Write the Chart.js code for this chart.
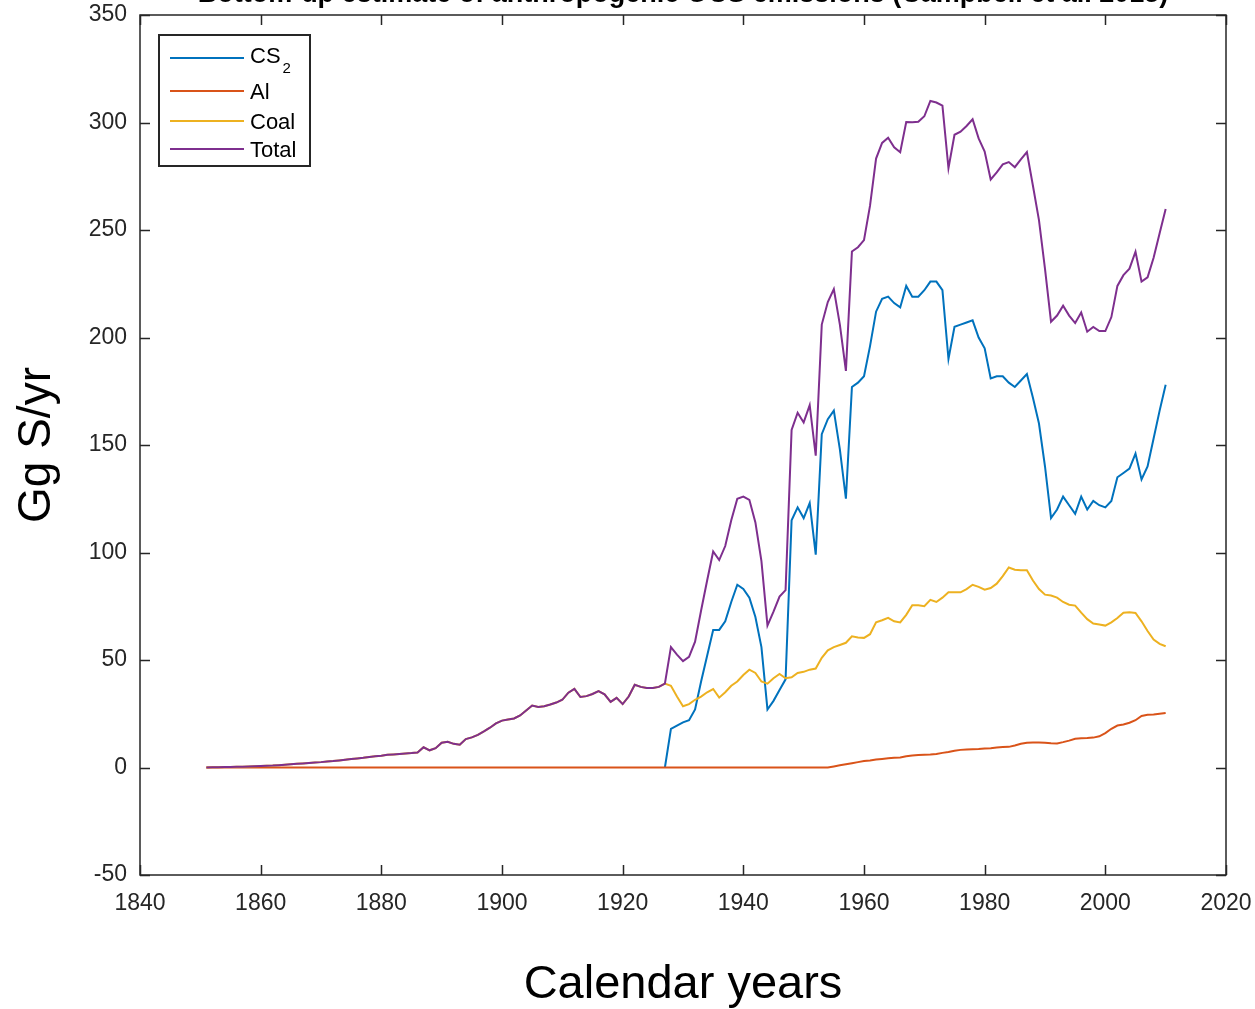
<!DOCTYPE html>
<html>
<head>
<meta charset="utf-8">
<script src="https://cdn.jsdelivr.net/npm/chart.js@4.4.0/dist/chart.umd.min.js"></script>
<style>
  html, body { margin: 0; padding: 0; background: #fff; }
  #wrap { width: 1255px; height: 1009px; position: relative; }
</style>
</head>
<body>
<div id="wrap"><canvas id="chart"></canvas></div>
<script>
// Bottom-up anthropogenic OCS emissions, Gg S per year

const titleText = 'Bottom-up estimate of anthropogenic OCS emissions (Campbell et al. 2015)';
const xTitle = 'Calendar years';
const yTitle = 'Gg S/yr';
const seriesNames = ['CS2', 'Al', 'Coal', 'Total'];
const seriesColors = ['#0072BD', '#D95319', '#EDB120', '#7E2F8E'];

const xTickValues = [1840, 1860, 1880, 1900, 1920, 1940, 1960, 1980, 2000, 2020];
const yTickValues = [-50, 0, 50, 100, 150, 200, 250, 300, 350];

// Coal, one value per year from 1851 to 2010
const coalFrom = 1851;
const coal = [
  0, 0.1, 0.1, 0.2, 0.2, 0.3, 0.4, 0.5, 0.6, 0.7,          // 1851-1860
  0.8, 0.9, 1.1, 1.3, 1.5, 1.7, 1.9, 2.1, 2.3, 2.5,        // 1861-1870
  2.8, 3.0, 3.3, 3.6, 3.9, 4.2, 4.5, 4.9, 5.2, 5.5,        // 1871-1880
  5.9, 6.1, 6.3, 6.5, 6.7, 7.0, 9.4, 8.0, 9.0, 11.5,       // 1881-1890
  12, 11, 10.6, 13.2, 14, 15.2, 16.8, 18.5, 20.5, 21.8,    // 1891-1900
  22.3, 22.8, 24.2, 26.5, 28.8, 28.2, 28.5, 29.3, 30.2, 31.5, // 1901-1910
  34.8, 36.6, 32.8, 33.2, 34.2, 35.5, 34, 30.5, 32.4, 29.5,   // 1911-1920
  33, 38.5, 37.5, 37, 37, 37.5, 39, 38, 33, 28.5,             // 1921-1930
  29.5, 31.5, 33, 35, 36.5, 32.5, 35, 38, 40, 43,             // 1931-1940
  45.5, 44, 40, 39, 41.5, 43.5, 41.5, 42, 44, 44.5,           // 1941-1950
  45.5, 46, 51, 54.5, 56, 57, 58, 61, 60.5, 60.3,             // 1951-1960
  62, 67.5, 68.5, 69.6, 68, 67.5, 71, 75.5, 75.5, 75,         // 1961-1970
  78, 77, 79, 81.5, 81.5, 81.5, 83, 85, 84, 82.7,             // 1971-1980
  83.5, 85.5, 89, 93, 92, 91.8, 91.7, 87, 83, 80.4,           // 1981-1990
  80, 79, 77, 75.7, 75.3, 72, 69, 67, 66.5, 66,               // 1991-2000
  67.5, 69.5, 72, 72.2, 71.9, 68, 63.5, 59.5, 57.5, 56.4      // 2001-2010
];

// CS2 (viscose industry), one value per year from 1927 to 2010
const cs2From = 1927;
const cs2 = [
  0, 18, 19.5, 21,                                  // 1927-1930
  22, 27, 40, 52, 64, 64, 68, 77, 85, 83,           // 1931-1940
  79, 70, 56, 27, 31, 36, 41, 115, 121, 116,        // 1941-1950
  123, 99, 155, 162, 166, 148, 125, 177, 179, 182,  // 1951-1960
  196, 212, 218, 219, 216, 214, 224, 219, 219, 222, // 1961-1970
  226, 226, 222, 190, 205, 206, 207, 208, 200, 195, // 1971-1980
  181, 182, 182, 179, 177, 180, 183, 172, 160, 140, // 1981-1990
  116, 120, 126, 122, 118, 126, 120, 124, 122, 121, // 1991-2000
  124, 135, 137, 139, 146, 134, 140, 153, 166, 178  // 2001-2010
];

// Aluminium smelting: zero until 1954, then one value per year to 2010
const alZeroFrom = 1851;
const alFrom = 1954;
const al = [
  0, 0.5, 1, 1.5, 2, 2.5, 3,                        // 1954-1960
  3.3, 3.7, 4, 4.3, 4.5, 4.7, 5.2, 5.6, 5.8, 5.9,   // 1961-1970
  6, 6.3, 6.8, 7.2, 7.8, 8.2, 8.4, 8.5, 8.6, 8.8,   // 1971-1980
  9, 9.3, 9.5, 9.6, 10.2, 11, 11.5, 11.6, 11.6, 11.5, // 1981-1990
  11.3, 11.2, 11.8, 12.5, 13.4, 13.6, 13.7, 13.9, 14.5, 16, // 1991-2000
  18, 19.5, 20, 20.8, 22, 24, 24.5, 24.6, 25, 25.4  // 2001-2010
];

// ---- build point lists ----
const coalPts = coal.map((v, i) => ({ x: coalFrom + i, y: v }));
const cs2Pts = cs2.map((v, i) => ({ x: cs2From + i, y: v }));
const alPts = [{ x: alZeroFrom, y: 0 }].concat(al.map((v, i) => ({ x: alFrom + i, y: v })));

function valueAt(arr, from, year) {
  const i = year - from;
  return (i >= 0 && i < arr.length) ? arr[i] : 0;
}
// Total is the sum of the three sources for each year
const totalPts = coal.map((v, i) => {
  const yr = coalFrom + i;
  return { x: yr, y: v + valueAt(cs2, cs2From, yr) + valueAt(al, alFrom, yr) };
});

const TEXT = '#262626';
const FONT = "'Liberation Sans', Arial, Helvetica, sans-serif";

// Box around the plot with inward tick marks on all four sides
const framePlugin = {
  id: 'frame',
  afterDatasetsDraw(chart) {
    const { ctx, chartArea: a, scales: { x, y } } = chart;
    const tl = 10;
    ctx.save();
    ctx.strokeStyle = TEXT;
    ctx.lineWidth = 1.5;
    ctx.strokeRect(a.left, a.top, a.right - a.left, a.bottom - a.top);
    ctx.beginPath();
    x.ticks.forEach(t => {
      const px = Math.round(x.getPixelForValue(t.value)) + 0.5;
      ctx.moveTo(px, a.bottom); ctx.lineTo(px, a.bottom - tl);
      ctx.moveTo(px, a.top); ctx.lineTo(px, a.top + tl);
    });
    y.ticks.forEach(t => {
      const py = Math.round(y.getPixelForValue(t.value)) + 0.5;
      ctx.moveTo(a.left, py); ctx.lineTo(a.left + tl, py);
      ctx.moveTo(a.right, py); ctx.lineTo(a.right - tl, py);
    });
    ctx.stroke();
    ctx.restore();
  }
};

// Legend box in the upper-left corner, with a subscript in CS2
const legendPlugin = {
  id: 'boxLegend',
  afterDraw(chart) {
    const { ctx, chartArea: a } = chart;
    const bx = a.left + 19, by = a.top + 20, bw = 151, bh = 131;
    const rows = [23, 56, 86, 114];
    ctx.save();
    ctx.fillStyle = '#fff';
    ctx.fillRect(bx, by, bw, bh);
    ctx.strokeStyle = TEXT;
    ctx.lineWidth = 2;
    ctx.strokeRect(bx, by, bw, bh);
    chart.data.datasets.forEach((ds, i) => {
      const ly = by + rows[i];
      ctx.strokeStyle = ds.borderColor;
      ctx.lineWidth = 2;
      ctx.beginPath();
      ctx.moveTo(bx + 11, ly); ctx.lineTo(bx + 85, ly);
      ctx.stroke();
      ctx.fillStyle = '#000';
      ctx.textBaseline = 'alphabetic';
      ctx.textAlign = 'left';
      ctx.font = '22px ' + FONT;
      const name = ds.label;
      const m = name.match(/^(.*?)(\d+)$/);
      if (m) {
        ctx.fillText(m[1], bx + 91, ly + 5);
        const w = ctx.measureText(m[1]).width;
        ctx.font = '15px ' + FONT;
        ctx.fillText(m[2], bx + 91 + w + 2, ly + 15);
      } else {
        ctx.fillText(name, bx + 91, ly + 8);
      }
    });
    ctx.restore();
  }
};

// Chart title sitting at the very top edge
const titlePlugin = {
  id: 'topTitle',
  afterDraw(chart) {
    const { ctx, chartArea: a } = chart;
    ctx.save();
    ctx.fillStyle = '#000';
    ctx.font = 'bold 27px ' + FONT;
    ctx.textAlign = 'center';
    ctx.textBaseline = 'alphabetic';
    ctx.fillText(titleText, (a.left + a.right) / 2, 2);
    ctx.restore();
  }
};

const datasets = [cs2Pts, alPts, coalPts, totalPts].map((pts, i) => ({
  label: seriesNames[i],
  data: pts,
  borderColor: seriesColors[i],
  backgroundColor: seriesColors[i],
  borderWidth: 2,
  pointRadius: 0,
  tension: 0,
  fill: false,
  order: 4 - i   // later series drawn on top
}));

new Chart(document.getElementById('chart'), {
  type: 'line',
  data: { datasets },
  options: {
    responsive: true,
    maintainAspectRatio: false,
    animation: false,
    devicePixelRatio: 1,
    parsing: false,
    layout: { padding: { top: 15, right: 29, left: 0, bottom: 0 } },
    plugins: { legend: { display: false }, title: { display: false }, tooltip: { enabled: false } },
    scales: {
      x: {
        type: 'linear',
        min: xTickValues[0],
        max: xTickValues[xTickValues.length - 1],
        afterBuildTicks(scale) { scale.ticks = xTickValues.map(v => ({ value: v })); },
        afterFit(scale) {
          scale.height = 134;
          scale.paddingLeft = 0;
          scale.paddingRight = 0;
        },
        grid: { display: false },
        border: { display: false },
        ticks: {
          color: TEXT,
          font: { family: FONT, size: 23 },
          padding: 7,
          maxRotation: 0,
          autoSkip: false,
          callback: v => String(v)
        },
        title: {
          display: true,
          text: xTitle,
          color: '#000',
          font: { family: FONT, size: 47, lineHeight: 1.0 },
          padding: { top: 0, bottom: 0 }
        }
      },
      y: {
        type: 'linear',
        min: yTickValues[0],
        max: yTickValues[yTickValues.length - 1],
        afterBuildTicks(scale) { scale.ticks = yTickValues.map(v => ({ value: v })); },
        afterFit(scale) {
          scale.width = 140;
          scale.paddingTop = 0;
          scale.paddingBottom = 0;
        },
        grid: { display: false },
        border: { display: false },
        ticks: {
          color: TEXT,
          font: { family: FONT, size: 23 },
          padding: 5,
          autoSkip: false,
          callback: v => String(v)
        },
        title: {
          display: true,
          text: yTitle,
          color: '#000',
          font: { family: FONT, size: 46, lineHeight: 1.0 },
          padding: { top: 14, bottom: 0 }
        }
      }
    }
  },
  plugins: [framePlugin, legendPlugin, titlePlugin]
});
</script>
</body>
</html>
